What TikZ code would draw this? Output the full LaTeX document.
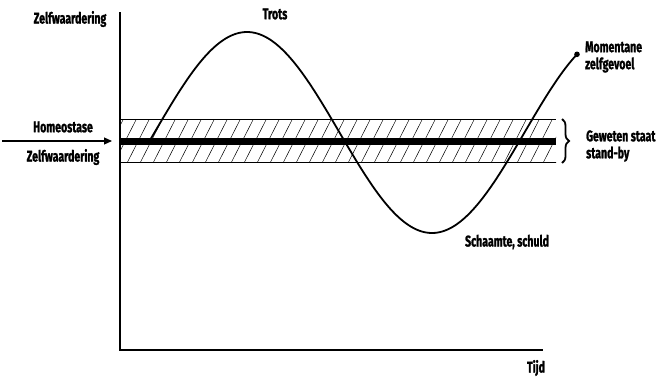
\documentclass[tikz,border=0pt]{standalone}
\usepackage{fontspec}
\setmainfont{Fira Sans}[UprightFont={* Bold},FakeStretch=0.68,FakeBold=1.3]
\usetikzlibrary{decorations.pathreplacing,arrows.meta}
\begin{document}
\begin{tikzpicture}[x=1pt,y=-1pt,
  lbl/.style={font=\fontsize{15.5}{17}\selectfont, inner sep=0pt},
  axis/.style={line width=1.4pt},
  hatch/.style={line width=0.5pt}]
\useasboundingbox (0,0) rectangle (666,380);
% axes
\coordinate (o) at (120,350);
\coordinate (ytop) at (120,12);
\coordinate (xend) at (543,350);
\draw[axis] (ytop) -- (o) -- (xend);
% hatched band
\coordinate (bandtl) at (120,119);
\coordinate (bandbr) at (556,162);
\begin{scope}
\clip (bandtl) rectangle (bandbr);
\foreach \i in {0,...,36} {
  \draw[hatch] ({100+13*\i},165) -- ({125+13*\i},116);
}
\end{scope}
\draw[line width=0.9pt] (120,119) -- (556,119);
\draw[line width=0.9pt] (120,162) -- (556,162);
% curve
\draw[line width=1.8pt, line cap=round] plot[domain=149:577, samples=200, smooth] (\x, {132.5-100.5*sin((\x-154.5)/370*360)});
\fill (577,{132.5-100.5*sin((577-154.5)/370*360)}) circle (2.8);
% thick bar
\fill (120,137.5) rectangle (556,145);
% arrow
\coordinate (arrs) at (2,141);
\coordinate (arre) at (112,141);
\draw[line width=1.1pt, -{Triangle[length=8pt,width=7pt]}] (arrs) -- (arre);
% brace
\draw[line width=1.8pt, decorate, decoration={brace, amplitude=7pt}] (562,119) -- (562,163);
% labels
\node[lbl] (zy) at (70,19) {Zelfwaardering};
\node[lbl] (homeo) at (63,127) {Homeostase};
\node[lbl] (zw) at (63,157) {Zelfwaardering};
\node[lbl] (trots) at (275,14) {Trots};
\node[lbl, anchor=west, align=left] (mom) at (585,57) {Momentane\\zelfgevoel};
\node[lbl, anchor=west, align=left] (gew) at (586,146) {Geweten staat\\stand-by};
\node[lbl] (scha) at (507,242) {Schaamte, schuld};
\node[lbl] (tijd) at (536,368) {Tijd};
\end{tikzpicture}
\end{document}
